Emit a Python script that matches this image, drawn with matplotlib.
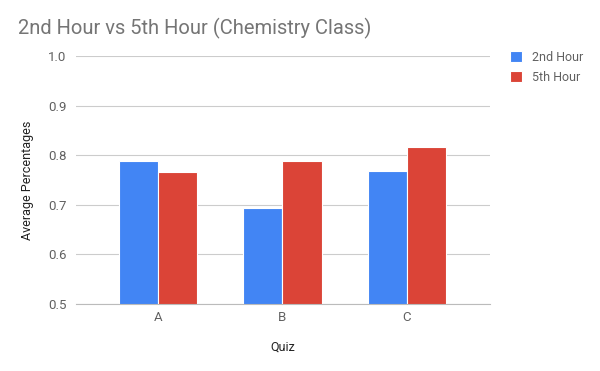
import matplotlib.pyplot as plt
import numpy as np

plt.rcParams['font.family'] = ['Roboto', 'DejaVu Sans']

# === Data ===
quizzes = ["A", "B", "C"]
hour2 = [0.788, 0.694, 0.768]
hour5 = [0.766, 0.788, 0.817]
yticks = [0.5, 0.6, 0.7, 0.8, 0.9, 1.0]

fig = plt.figure(figsize=(6, 3.71), dpi=100)
ax = fig.add_axes([0.1267, 0.1806, 0.69, 0.6684])

x = np.arange(len(quizzes))
w = 0.315
ax.bar(x - w / 2, hour2, w, bottom=0, color="#4285F4", edgecolor="white", linewidth=0.8, label="2nd Hour", zorder=3)
ax.bar(x + w / 2, hour5, w, bottom=0, color="#DB4437", edgecolor="white", linewidth=0.8, label="5th Hour", zorder=3)

ax.set_ylim(0.5, 1.0)
ax.set_xlim(-0.66, 2.67)
ax.set_yticks(yticks)
ax.set_yticklabels([f"{v:.1f}" for v in yticks])
ax.set_xticks(x)
ax.set_xticklabels(quizzes)
ax.tick_params(axis="both", length=0, labelsize=9.5, colors="#616161")
ax.tick_params(axis="y", pad=7)
ax.tick_params(axis="x", pad=5)
ax.grid(axis="y", color="#cccccc", linewidth=0.8, zorder=0)
for s in ["top", "right", "left"]:
    ax.spines[s].set_visible(False)
ax.spines["bottom"].set_color("#bbbbbb")
ax.spines["bottom"].set_zorder(4)

ax.set_xlabel("Quiz", fontsize=9, color="#222222", labelpad=12)
ax.set_ylabel("Average Percentages", fontsize=9, color="#222222", labelpad=10)

fig.text(0.03, 0.922, "2nd Hour vs 5th Hour (Chemistry Class)", fontsize=14.5, color="#757575", va="center")

ax.legend(loc="upper left", bbox_to_anchor=(1.02, 1.065), frameon=False, fontsize=9,
          labelcolor="#616161", handlelength=1.0, handleheight=1.0, handletextpad=0.8, labelspacing=0.55)

plt.savefig("out.png", dpi=100)
